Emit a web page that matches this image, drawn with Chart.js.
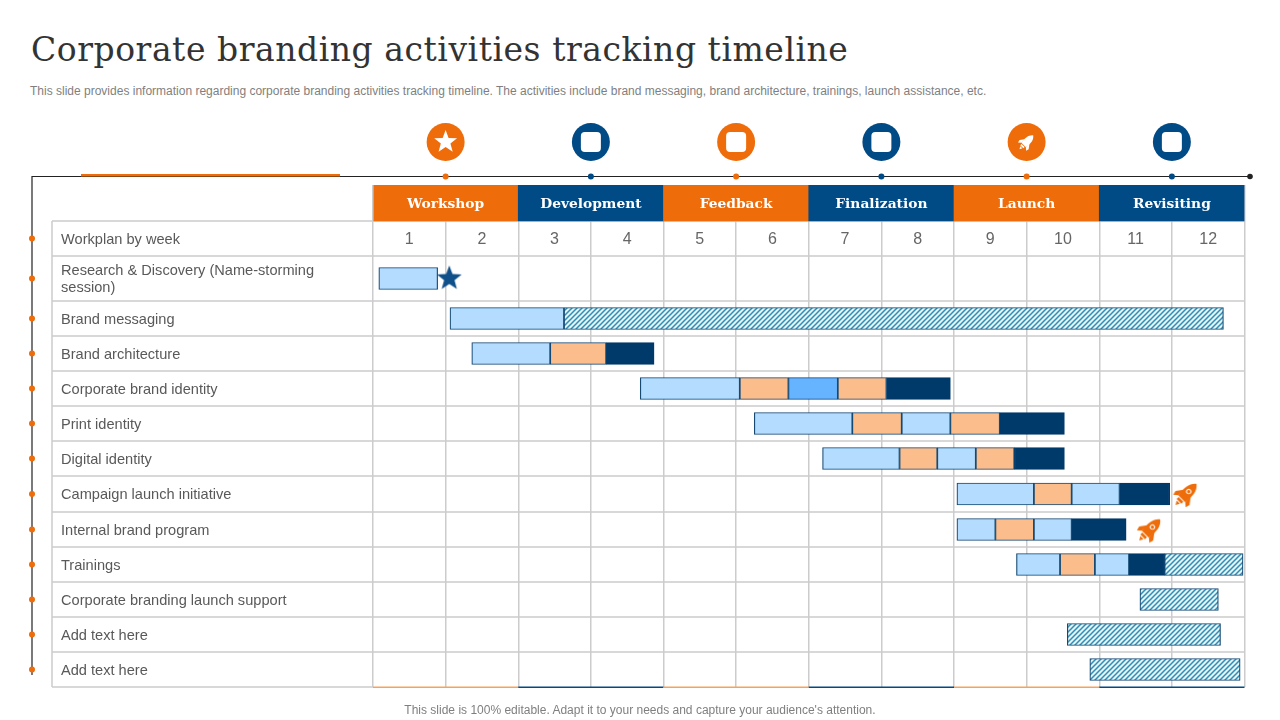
<!DOCTYPE html>
<html lang="en">
<head>
  <meta charset="UTF-8" />
  <title>Corporate branding activities tracking timeline</title>
  <script src="https://cdn.jsdelivr.net/npm/chart.js"></script>
  <style>
    html, body { margin: 0; padding: 0; background: #fff; overflow: hidden; }
    body { width: 1280px; height: 720px; position: relative; font-family: "Liberation Sans", Arial, sans-serif; }
    h1 { position: absolute; left: 31px; top: 30px; margin: 0; font: normal 33px "DejaVu Serif", serif; letter-spacing: 0.54px; color: #333; white-space: nowrap; }
    .sub { position: absolute; left: 30px; top: 84px; font-size: 12px; color: #7f7f7f; white-space: nowrap; }
    .foot { position: absolute; left: 0; width: 1280px; top: 703px; text-align: center; font-size: 12px; color: #7f7f7f; }
    canvas { position: absolute; left: 0; top: 0; }
  </style>
</head>
<body>
  <h1>Corporate branding activities tracking timeline</h1>
  <div class="sub">This slide provides information regarding corporate branding activities tracking timeline. The activities include brand messaging, brand architecture, trainings, launch assistance, etc.</div>
  <canvas id="gantt" width="1280" height="720"></canvas>
  <div class="foot">This slide is 100% editable. Adapt it to your needs and capture your audience's attention.</div>

  <script>
    const rowNames = ['', 'Workplan by week', ['Research & Discovery (Name-storming', 'session)'], 'Brand messaging',
      'Brand architecture', 'Corporate brand identity', 'Print identity', 'Digital identity', 'Campaign launch initiative',
      'Internal brand program', 'Trainings', 'Corporate branding launch support', 'Add text here', 'Add text here'];
    const weeks = ['1', '2', '3', '4', '5', '6', '7', '8', '9', '10', '11', '12'];
    const phases = ['Workshop', 'Development', 'Feedback', 'Finalization', 'Launch', 'Revisiting'];
    const phaseSpans = [[0, 2], [2, 4], [4, 6], [6, 8], [8, 10], [10, 12]];

    // [row, start week, end week]
    const lightSpans = [[2, 0.08, 0.89], [3, 1.06, 2.63], [4, 1.36, 2.44], [5, 3.68, 5.05], [6, 5.25, 6.60], [6, 7.28, 7.95],
      [7, 6.19, 7.25], [7, 7.77, 8.30], [8, 8.04, 9.10], [8, 9.62, 10.28], [9, 8.04, 8.57], [9, 9.10, 9.62],
      [10, 8.86, 9.46], [10, 9.94, 10.41]];
    const peachSpans = [[4, 2.44, 3.21], [5, 5.05, 5.72], [5, 6.40, 7.07], [6, 6.60, 7.28], [6, 7.95, 8.63],
      [7, 7.25, 7.77], [7, 8.30, 8.83], [8, 9.10, 9.62], [9, 8.57, 9.10], [10, 9.46, 9.94]];
    const midBlueSpans = [[5, 5.72, 6.40]];
    const navySpans = [[4, 3.21, 3.87], [5, 7.07, 7.95], [6, 8.63, 9.52], [7, 8.83, 9.52], [8, 10.28, 10.97],
      [9, 9.62, 10.37], [10, 10.41, 10.90]];
    const hatchSpans = [[3, 2.63, 11.71], [10, 10.90, 11.98], [11, 10.56, 11.64], [12, 9.56, 11.67], [13, 9.87, 11.94]];
    const starMarks = [[2, 1.05]];
    const rocketMarks = [[8, 11.2], [9, 10.7]];

    const ORANGE = '#ee6c09', NAVY = '#004a85', GRID = '#cccccc';
    const rowHeights = [36, 35, 45, 35, 35, 35, 35, 35, 36, 35, 35, 35, 35, 35];

    // linear scale whose rows are not all the same height
    class RowScale extends Chart.LinearScale {
      static id = 'rowScale';
      static defaults = Chart.LinearScale.defaults;
      getPixelForValue(value) {
        const total = rowHeights.reduce((a, b) => a + b, 0);
        const k = (this.bottom - this.top) / total;
        const edge = Math.max(0, Math.min(rowHeights.length, value + 0.5));
        const whole = Math.floor(edge);
        let sum = 0;
        for (let i = 0; i < whole; i++) sum += rowHeights[i];
        if (whole < rowHeights.length) sum += rowHeights[whole] * (edge - whole);
        return this.top + sum * k;
      }
    }
    Chart.register(RowScale);

    function stamp(size, draw) {
      const c = document.createElement('canvas');
      c.width = c.height = size;
      const g = c.getContext('2d');
      g.translate(size / 2, size / 2);
      draw(g);
      return c;
    }

    function starPath(g, r, color) {
      g.fillStyle = color;
      g.beginPath();
      for (let i = 0; i < 10; i++) {
        const rad = i % 2 ? r * 0.42 : r;
        const a = -Math.PI / 2 + i * Math.PI / 5;
        g.lineTo(rad * Math.cos(a), rad * Math.sin(a));
      }
      g.closePath();
      g.fill();
    }

    function rocketPath(g, s, color) {
      g.save();
      g.rotate(Math.PI / 4);
      g.scale(s, s);
      g.fillStyle = color;
      g.beginPath();
      g.moveTo(0, -13);
      g.bezierCurveTo(5, -9, 5.5, -3, 4.5, 6);
      g.lineTo(-4.5, 6);
      g.bezierCurveTo(-5.5, -3, -5, -9, 0, -13);
      g.fill();
      g.beginPath();
      g.moveTo(-4.5, -1); g.lineTo(-9, 5); g.lineTo(-8, 9); g.lineTo(-4.5, 6); g.fill();
      g.beginPath();
      g.moveTo(4.5, -1); g.lineTo(9, 5); g.lineTo(8, 9); g.lineTo(4.5, 6); g.fill();
      g.fillRect(-3, 7, 6, 2.5);
      g.beginPath();
      g.moveTo(-2, 10.5); g.lineTo(2, 10.5); g.lineTo(0, 14); g.fill();
      g.strokeStyle = '#fff';
      g.lineWidth = 0.9;
      g.beginPath();
      g.arc(0, -3, 2, 0, Math.PI * 2);
      g.stroke();
      g.restore();
    }

    const hatch = (() => {
      const c = document.createElement('canvas');
      c.width = c.height = 5;
      const g = c.getContext('2d');
      g.fillStyle = '#e4f3f9';
      g.fillRect(0, 0, 5, 5);
      g.strokeStyle = '#2f8fb3';
      g.lineWidth = 1.5;
      g.beginPath();
      g.moveTo(-1, 6); g.lineTo(6, -1);
      g.moveTo(-1, 1); g.lineTo(1, -1);
      g.moveTo(4, 6); g.lineTo(6, 4);
      g.stroke();
      return g.createPattern(c, 'repeat');
    })();

    const toBars = spans => spans.map(s => ({ y: s[0], x: [s[1], s[2]] }));
    const barSet = (spans, fill, border) => ({
      type: 'bar', data: toBars(spans), backgroundColor: fill, borderColor: border || '#164a73',
      borderWidth: 1.2, borderSkipped: false, barThickness: 22, grouped: false, order: 2
    });
    const markSet = (marks, style) => ({
      type: 'scatter', data: marks.map(m => ({ y: m[0], x: m[1] })), pointStyle: style,
      clip: false, order: 1
    });

    const framePlugin = {
      id: 'frame',
      beforeDatasetsDraw(chart) {
        const { ctx, scales: { x, y } } = chart;
        ctx.save();
        ctx.strokeStyle = GRID;
        ctx.lineWidth = 1.5;
        ctx.beginPath();
        rowNames.forEach((_, i) => {
          if (i === 0) return;
          const py = y.getPixelForValue(i - 0.5);
          ctx.moveTo(52, py);
          ctx.lineTo(x.right, py);
        });
        ctx.moveTo(52, y.bottom);
        ctx.lineTo(x.left, y.bottom);
        ctx.moveTo(52, y.getPixelForValue(0.5));
        ctx.lineTo(52, y.bottom);
        ctx.stroke();
        ctx.restore();
      },
      afterDatasetsDraw(chart) {
        const { ctx, scales: { x, y } } = chart;
        ctx.save();
        ctx.textAlign = 'center';
        ctx.textBaseline = 'middle';

        ctx.font = 'bold 13.8px "DejaVu Serif", serif';
        ctx.fillStyle = '#fff';
        phases.forEach((name, i) => {
          ctx.fillText(name, x.getPixelForValue(i * 2 + 1), y.getPixelForValue(0) + 1.5);
        });

        ctx.font = '16px "Liberation Sans", Arial, sans-serif';
        ctx.fillStyle = '#666';
        weeks.forEach((w, i) => {
          ctx.fillText(w, x.getPixelForValue(i + 0.5), y.getPixelForValue(1) + 1.5);
        });

        // coloured rule under the table
        phaseSpans.forEach((span, i) => {
          ctx.fillStyle = i % 2 ? NAVY : '#f5a25d';
          ctx.fillRect(x.getPixelForValue(span[0]), y.bottom - 0.5, x.getPixelForValue(span[1]) - x.getPixelForValue(span[0]), 1.5);
        });

        // timeline along the top and left
        ctx.strokeStyle = '#222';
        ctx.lineWidth = 1.2;
        ctx.beginPath();
        ctx.moveTo(32, 675);
        ctx.lineTo(32, 176.5);
        ctx.lineTo(1250, 176.5);
        ctx.stroke();
        ctx.fillStyle = ORANGE;
        ctx.fillRect(81, 174, 259, 2.5);
        ctx.fillStyle = '#222';
        ctx.beginPath();
        ctx.arc(1250, 176.5, 2.8, 0, Math.PI * 2);
        ctx.fill();

        rowNames.forEach((_, i) => {
          if (i === 0) return;
          ctx.fillStyle = ORANGE;
          ctx.beginPath();
          ctx.arc(32, y.getPixelForValue(i), 3, 0, Math.PI * 2);
          ctx.fill();
        });

        phases.forEach((_, i) => {
          const cx = x.getPixelForValue(i * 2 + 1);
          const color = i % 2 ? NAVY : ORANGE;
          ctx.fillStyle = color;
          ctx.beginPath();
          ctx.arc(cx, 176.5, 3, 0, Math.PI * 2);
          ctx.fill();
          ctx.beginPath();
          ctx.arc(cx, 142, 19, 0, Math.PI * 2);
          ctx.fill();
          ctx.save();
          ctx.translate(cx, 142);
          if (i === 0) {
            starPath(ctx, 12, '#fff');
          } else if (i === 4) {
            rocketPath(ctx, 0.72, '#fff');
          } else {
            ctx.fillStyle = '#fff';
            ctx.beginPath();
            ctx.roundRect(-10, -10, 20, 20, 4);
            ctx.fill();
          }
          ctx.restore();
        });
        ctx.restore();
      }
    };

    new Chart(document.getElementById('gantt'), {
      type: 'bar',
      data: {
        datasets: [
          { type: 'bar', data: toBars(phaseSpans.map(s => [0, s[0], s[1]])),
            backgroundColor: phases.map((_, i) => i % 2 ? NAVY : ORANGE),
            barThickness: 36, grouped: false, order: 3 },
          barSet(lightSpans, '#b3dcff'),
          barSet(peachSpans, '#fbbd8c'),
          barSet(midBlueSpans, '#66b3ff'),
          barSet(navySpans, '#003a6a', '#003a6a'),
          barSet(hatchSpans, hatch),
          markSet(starMarks, stamp(32, g => starPath(g, 13, '#0f4f8a'))),
          markSet(rocketMarks, stamp(44, g => rocketPath(g, 1.1, '#ee6c09')))
        ]
      },
      options: {
        indexAxis: 'y',
        responsive: false,
        animation: false,
        layout: { padding: { left: 61, top: 185, right: 35.5, bottom: 33 } },
        plugins: { legend: { display: false }, tooltip: { enabled: false } },
        scales: {
          x: {
            type: 'linear', min: 0, max: 12,
            ticks: { stepSize: 1, display: false },
            grid: { color: GRID, lineWidth: 1.5, drawTicks: false },
            border: { display: false },
            afterFit: s => { s.height = 0; }
          },
          y: {
            type: 'rowScale', min: -0.5, max: 13.5,
            afterBuildTicks: s => { s.ticks = rowNames.map((_, i) => ({ value: i })); },
            afterFit: s => { s.width = 312; },
            ticks: {
              autoSkip: false, crossAlign: 'far', color: '#595959', labelOffset: 1,
              font: { family: '"Liberation Sans", Arial, sans-serif', size: 14.6, lineHeight: 1.22 },
              callback: v => rowNames[v]
            },
            grid: { display: false },
            border: { display: false }
          }
        }
      },
      plugins: [framePlugin]
    });
  </script>
</body>
</html>
